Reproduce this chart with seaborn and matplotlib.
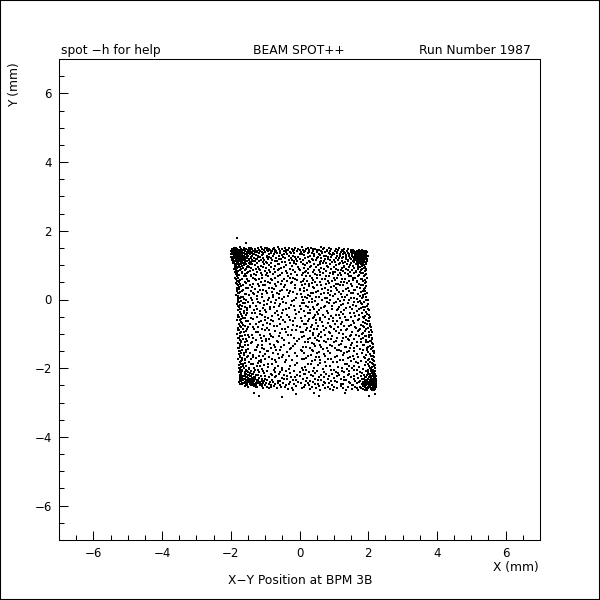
import numpy as np
import pandas as pd
import seaborn as sns
import matplotlib.pyplot as plt
from matplotlib.patches import Rectangle
from matplotlib.ticker import MultipleLocator

# hits, (y, [x, x, ...]) in mm, band by band
stray_hits = [
    (1.78, [-1.82]), (1.64, [-1.55]), (-2.72, [-1.32, 1.31, 0.42]),
    (-2.80, [-1.18, 0.57, 2.03]), (-2.85, [-0.52]), (-2.76, [-0.11, 2.21]),
]
top_band = [
    (1.52, [-1.73, -1.12, -0.63, 0.08, 0.62]),
    (1.49, [-1.91, -1.62, -1.48, -1.21, -0.94, -0.41, -0.12, 0.33, 0.71]),
    (1.46, [-1.97, -1.83, -1.71, -1.55, -1.37, -1.08, -0.77, -0.52, -0.22, 0.19, 0.46, 0.93, 1.41]),
    (1.43, [-1.94, -1.88, -1.76, -1.64, -1.43, -1.29, -1.02, -0.86, -0.33, 0.02, 0.27, 0.58, 1.12, 1.56, 1.73]),
    (1.40, [-1.99, -1.86, -1.79, -1.68, -1.58, -1.34, -1.16, -0.91, -0.68, -0.46, -0.07, 0.39, 0.81, 1.03, 1.38, 1.67, 1.84, 1.93]),
    (1.37, [-1.93, -1.85, -1.72, -1.66, -1.51, -1.41, -1.25, -0.99, -0.72, -0.28, 0.13, 0.52, 0.74, 1.21, 1.49, 1.62, 1.78, 1.89]),
    (1.34, [-1.96, -1.81, -1.75, -1.61, -1.53, -1.38, -1.19, -0.83, -0.57, -0.15, 0.24, 0.66, 0.98, 1.33, 1.58, 1.71, 1.81, 1.95]),
    (1.31, [-1.98, -1.89, -1.77, -1.69, -1.57, -1.45, -1.31, -1.05, -0.74, -0.37, 0.07, 0.43, 0.88, 1.17, 1.44, 1.65, 1.75, 1.86, 1.91]),
    (1.28, [-1.92, -1.84, -1.73, -1.63, -1.49, -1.22, -0.96, -0.61, -0.19, 0.31, 0.77, 1.08, 1.52, 1.69, 1.79, 1.88, 1.98]),
    (1.25, [-1.95, -1.87, -1.78, -1.67, -1.59, -1.42, -1.14, -0.88, -0.48, -0.03, 0.55, 0.92, 1.27, 1.61, 1.72, 1.83, 1.94]),
    (1.22, [-1.9, -1.82, -1.74, -1.65, -1.52, -1.33, -1.07, -0.69, -0.25, 0.17, 0.63, 1.14, 1.47, 1.68, 1.76, 1.85, 1.92]),
    (1.19, [-1.97, -1.86, -1.71, -1.62, -1.46, -1.27, -0.93, -0.54, -0.09, 0.36, 0.84, 1.36, 1.59, 1.73, 1.82, 1.96]),
    (1.16, [-1.93, -1.8, -1.72, -1.6, -1.39, -1.11, -0.79, -0.31, 0.11, 0.49, 1.01, 1.42, 1.64, 1.77, 1.87]),
    (1.13, [-1.88, -1.76, -1.66, -1.55, -1.35, -1.18, -0.65, -0.17, 0.28, 0.72, 1.25, 1.55, 1.7, 1.84, 1.97]),
    (1.10, [-1.94, -1.83, -1.7, -1.58, -1.44, -0.98, -0.43, 0.04, 0.59, 0.95, 1.31, 1.66, 1.78, 1.9]),
    (1.07, [-1.91, -1.79, -1.64, -1.47, -1.24, -0.84, -0.27, 0.22, 0.68, 1.19, 1.5, 1.74, 1.86]),
    (1.04, [-1.86, -1.73, -1.56, -1.37, -1.03, -0.59, -0.11, 0.41, 0.89, 1.39, 1.63, 1.81, 1.93]),
    (1.01, [-1.89, -1.77, -1.61, -1.3, -0.89, -0.38, 0.15, 0.53, 1.06, 1.46, 1.71, 1.89]),
    (0.98, [-1.84, -1.68, -1.5, -1.13, -0.71, -0.21, 0.34, 0.8, 1.29, 1.57, 1.83]),
]
top_band_more = [
    (1.50, [-1.85, -1.42, -1.0, -0.74, -0.3, 0.25, 0.85, 1.15]),
    (1.47, [-1.9, -1.6, -1.3, -0.88, -0.6, -0.05, 0.4, 0.68, 1.05, 1.3]),
    (1.44, [-1.8, -1.5, -1.18, -0.95, -0.7, -0.4, -0.16, 0.11, 0.5, 0.8, 1.24, 1.5, 1.82]),
    (1.41, [-1.92, -1.74, -1.47, -1.23, -0.8, -0.56, -0.2, 0.16, 0.62, 0.9, 1.26, 1.6, 1.76, 1.9]),
    (1.38, [-1.96, -1.7, -1.54, -1.3, -1.1, -0.82, -0.38, 0.04, 0.29, 0.65, 1.1, 1.3, 1.55, 1.74, 1.86, 1.97]),
    (1.35, [-1.9, -1.78, -1.64, -1.47, -1.06, -0.66, -0.24, 0.36, 0.87, 1.1, 1.4, 1.66, 1.75, 1.92]),
    (1.32, [-1.94, -1.84, -1.71, -1.6, -1.35, -0.9, -0.44, 0.0, 0.56, 1.0, 1.26, 1.54, 1.69, 1.78, 1.88]),
    (1.29, [-1.87, -1.8, -1.66, -1.54, -1.27, -1.1, -0.52, 0.14, 0.61, 0.96, 1.35, 1.62, 1.73, 1.84, 1.94]),
    (1.26, [-1.91, -1.75, -1.62, -1.37, -0.78, -0.3, 0.42, 0.7, 1.18, 1.43, 1.65, 1.76, 1.9]),
    (1.23, [-1.98, -1.86, -1.7, -1.56, -1.2, -0.94, -0.12, 0.24, 0.82, 1.34, 1.56, 1.8, 1.88]),
    (1.20, [-1.92, -1.8, -1.68, -1.42, -0.82, -0.42, 0.5, 1.06, 1.24, 1.62, 1.71, 1.9]),
    (1.17, [-1.84, -1.75, -1.58, -1.24, -0.6, 0.02, 0.74, 1.5, 1.68, 1.8, 1.93]),
    (1.14, [-1.96, -1.82, -1.63, -1.48, -1.03, -0.22, 0.4, 0.88, 1.12, 1.6, 1.75, 1.88]),
    (1.11, [-1.87, -1.74, -1.52, -1.3, -0.72, -0.06, 0.64, 1.4, 1.72, 1.83]),
    (1.08, [-1.82, -1.68, -1.4, -1.07, -0.5, 0.3, 1.03, 1.58, 1.8, 1.95]),
    (1.05, [-1.93, -1.79, -1.6, -0.95, -0.16, 0.76, 1.27, 1.68, 1.85]),
    (1.02, [-1.83, -1.71, -1.45, -0.64, 0.1, 0.6, 1.15, 1.78]),
]
upper_middle = [
    (0.95, [-1.87, -1.74, -1.53, -1.2, -0.82, -0.05, 0.47, 1.0, 1.44, 1.76, 1.92]),
    (0.92, [-1.82, -1.63, -1.4, -0.97, -0.55, 0.12, 0.64, 1.23, 1.6, 1.87]),
    (0.89, [-1.9, -1.7, -1.28, -0.75, -0.29, 0.26, 0.91, 1.35, 1.69, 1.94]),
    (0.86, [-1.85, -1.59, -1.15, -0.62, 0.01, 0.56, 1.11, 1.53, 1.8]),
    (0.83, [-1.78, -1.45, -1.01, -0.4, 0.19, 0.76, 1.28, 1.65, 1.9]),
    (0.80, [-1.88, -1.66, -1.23, -0.86, -0.14, 0.38, 1.04, 1.48, 1.75]),
    (0.77, [-1.81, -1.52, -0.94, -0.5, 0.09, 0.69, 1.18, 1.58, 1.85]),
    (0.73, [-1.86, -1.6, -1.32, -0.77, -0.24, 0.44, 0.97, 1.41, 1.93]),
    (0.70, [-1.75, -1.42, -1.09, -0.58, 0.06, 0.6, 1.22, 1.72]),
    (0.67, [-1.83, -1.57, -0.91, -0.33, 0.3, 0.85, 1.5, 1.88]),
    (0.64, [-1.79, -1.36, -0.7, -0.18, 0.5, 1.09, 1.62, 1.96]),
    (0.60, [-1.84, -1.54, -1.17, -0.46, 0.14, 0.73, 1.32, 1.79]),
    (0.57, [-1.72, -1.26, -0.8, -0.06, 0.4, 1.02, 1.55, 1.9]),
    (0.54, [-1.81, -1.48, -0.99, -0.35, 0.23, 0.94, 1.45, 1.84]),
    (0.51, [-1.76, -1.12, -0.64, 0.03, 0.61, 1.2, 1.67]),
    (0.47, [-1.85, -1.56, -0.85, -0.26, 0.35, 0.87, 1.38, 1.92]),
    (0.44, [-1.74, -1.34, -0.53, 0.17, 0.78, 1.13, 1.73]),
    (0.41, [-1.8, -1.44, -1.0, -0.42, 0.08, 0.52, 1.26, 1.86]),
    (0.38, [-1.69, -1.19, -0.67, 0.27, 0.99, 1.52, 1.95]),
    (0.34, [-1.83, -1.5, -0.9, -0.12, 0.42, 1.07, 1.77]),
    (0.31, [-1.77, -1.29, -0.73, 0.0, 0.66, 1.34, 1.88]),
    (0.28, [-1.65, -1.06, -0.37, 0.21, 0.82, 1.6]),
    (0.25, [-1.82, -1.41, -0.56, 0.13, 0.93, 1.43, 1.91]),
    (0.21, [-1.73, -1.21, -0.8, -0.2, 0.48, 1.16, 1.8]),
    (0.18, [-1.79, -0.96, -0.3, 0.33, 0.71, 1.56, 1.97]),
    (0.15, [-1.6, -1.33, -0.61, 0.05, 1.03, 1.7]),
    (0.12, [-1.84, -1.47, -0.78, 0.25, 0.88, 1.37, 1.85]),
    (0.08, [-1.71, -1.1, -0.44, 0.16, 0.57, 1.24, 1.94]),
    (0.05, [-1.78, -0.88, -0.09, 0.75, 1.49, 1.82]),
    (0.02, [-1.62, -1.24, -0.52, 0.37, 1.11, 1.66]),
    (-0.01, [-1.8, -1.38, -0.69, 0.1, 0.9, 1.3, 1.98]),
    (-0.05, [-1.7, -1.03, -0.23, 0.45, 1.19, 1.75]),
    (-0.08, [-1.75, -1.49, -0.83, 0.29, 0.81, 1.59, 1.89]),
    (-0.11, [-1.58, -1.14, -0.39, 0.06, 1.0, 1.42]),
    (-0.14, [-1.82, -0.95, -0.57, 0.55, 1.27, 1.83, 2.0]),
    (-0.18, [-1.66, -1.27, -0.16, 0.2, 0.74, 1.64]),
    (-0.21, [-1.77, -1.43, -0.75, 0.39, 1.14, 1.92]),
    (-0.24, [-1.54, -1.05, -0.31, 0.63, 1.36, 1.78]),
    (-0.27, [-1.72, -0.87, 0.04, 0.96, 1.52, 1.99]),
    (-0.31, [-1.79, -1.31, -0.47, 0.31, 1.08, 1.87]),
    (-0.34, [-1.61, -1.16, -0.65, 0.12, 0.79, 1.68]),
]
upper_middle_more = [
    (0.94, [-1.79, -1.48, -1.06, -0.44, 0.32, 0.83, 1.3, 1.7]),
    (0.90, [-1.86, -1.55, -1.17, -0.6, -0.02, 0.7, 1.07, 1.82]),
    (0.85, [-1.72, -1.35, -0.88, -0.2, 0.43, 1.2, 1.4, 1.95]),
    (0.81, [-1.83, -1.5, -0.72, 0.15, 0.6, 0.98, 1.63]),
    (0.76, [-1.68, -1.12, -0.36, 0.25, 0.9, 1.33, 1.78]),
    (0.72, [-1.8, -1.27, -0.98, -0.08, 0.52, 1.13, 1.9]),
    (0.68, [-1.62, -1.4, -0.62, 0.2, 0.78, 1.44, 1.7]),
    (0.63, [-1.87, -1.08, -0.28, 0.35, 1.0, 1.56]),
    (0.59, [-1.68, -1.3, -0.84, -0.13, 0.66, 1.25, 1.83]),
    (0.55, [-1.78, -1.5, -0.52, 0.1, 0.83, 1.66]),
    (0.50, [-1.6, -0.93, -0.22, 0.46, 1.3, 1.94]),
    (0.46, [-1.82, -1.22, -0.7, 0.27, 1.05, 1.5]),
    (0.42, [-1.64, -1.05, -0.14, 0.62, 1.18, 1.8]),
    (0.37, [-1.75, -1.37, -0.45, 0.38, 0.92, 1.68]),
    (0.33, [-1.57, -0.8, 0.12, 0.74, 1.42, 1.9]),
    (0.29, [-1.81, -1.15, -0.5, 0.0, 1.1, 1.62]),
    (0.24, [-1.68, -0.98, -0.27, 0.55, 1.28, 1.84]),
    (0.20, [-1.76, -1.36, -0.66, 0.4, 0.84, 1.5]),
    (0.16, [-1.56, -1.08, -0.08, 0.62, 1.2, 1.92]),
    (0.11, [-1.8, -1.25, -0.34, 0.3, 0.98, 1.75]),
    (0.07, [-1.64, -0.76, 0.07, 0.48, 1.32, 1.86]),
    (0.03, [-1.73, -1.42, -0.6, 0.22, 0.8, 1.58]),
    (-0.02, [-1.56, -0.92, -0.17, 0.66, 1.43, 1.93]),
    (-0.06, [-1.78, -1.2, -0.48, 0.36, 1.06, 1.69]),
    (-0.10, [-1.65, -1.34, -0.7, 0.14, 0.86, 1.8]),
    (-0.15, [-1.72, -1.02, -0.26, 0.5, 1.22, 1.55]),
    (-0.19, [-1.8, -1.45, -0.6, 0.02, 0.95, 1.96]),
    (-0.23, [-1.6, -0.86, 0.25, 0.72, 1.46, 1.85]),
    (-0.28, [-1.7, -1.24, -0.4, 0.42, 1.12, 1.72]),
    (-0.32, [-1.54, -0.99, -0.12, 0.58, 1.3, 2.02]),
]
lower_middle = [
    (-0.37, [-1.74, -0.98, -0.02, 0.5, 1.22, 1.95]),
    (-0.40, [-1.52, -1.39, -0.72, 0.24, 1.46, 1.81]),
    (-0.44, [-1.8, -1.08, -0.36, 0.68, 1.05, 2.01]),
    (-0.47, [-1.67, -0.81, 0.15, 0.92, 1.61, 1.9]),
    (-0.50, [-1.76, -1.25, -0.55, 0.41, 1.33, 1.84]),
    (-0.53, [-1.59, -0.92, -0.13, 0.59, 1.17, 2.03]),
    (-0.57, [-1.71, -1.35, -0.6, 0.28, 0.85, 1.74]),
    (-0.60, [-1.81, -1.01, -0.27, 0.47, 1.4, 1.93]),
    (-0.63, [-1.56, -0.76, 0.08, 0.97, 1.55, 2.02]),
    (-0.66, [-1.69, -1.18, -0.43, 0.65, 1.25, 1.86]),
    (-0.70, [-1.77, -1.44, -0.86, 0.18, 1.04, 1.97]),
    (-0.73, [-1.63, -1.07, -0.2, 0.36, 1.51, 1.79]),
    (-0.76, [-1.73, -0.66, 0.54, 0.9, 1.3, 2.05]),
    (-0.79, [-1.5, -1.22, -0.34, 0.02, 1.13, 1.88]),
    (-0.83, [-1.79, -0.94, 0.22, 0.77, 1.63, 1.99]),
    (-0.86, [-1.64, -1.33, -0.51, 0.43, 1.39, 1.76]),
    (-0.89, [-1.75, -1.0, -0.1, 0.7, 1.2, 2.07]),
    (-0.92, [-1.55, -0.7, 0.32, 1.06, 1.69, 1.91]),
    (-0.96, [-1.7, -1.2, -0.4, 0.11, 0.86, 2.03]),
    (-0.99, [-1.81, -0.85, 0.58, 1.28, 1.83]),
    (-1.02, [-1.6, -1.37, -0.25, 0.38, 1.5, 2.09]),
    (-1.05, [-1.72, -1.04, -0.59, 0.95, 1.72, 1.95]),
    (-1.09, [-1.47, -0.78, 0.07, 0.62, 1.35, 2.01]),
    (-1.12, [-1.78, -1.13, -0.15, 0.44, 1.1, 1.86]),
    (-1.15, [-1.65, -0.89, 0.26, 0.83, 1.58, 2.11]),
    (-1.18, [-1.74, -1.28, -0.45, 0.51, 1.44, 1.93]),
    (-1.22, [-1.53, -0.97, -0.06, 0.72, 1.24, 2.06]),
    (-1.25, [-1.69, -0.63, 0.17, 1.01, 1.78, 1.98]),
    (-1.28, [-1.79, -1.4, -0.32, 0.35, 1.53, 2.12]),
    (-1.31, [-1.58, -1.09, -0.74, 0.6, 1.15, 1.89]),
    (-1.35, [-1.72, -0.19, 0.46, 0.94, 1.67, 2.04]),
    (-1.38, [-1.63, -1.23, -0.54, 0.1, 1.32, 2.14]),
    (-1.41, [-1.76, -0.83, 0.3, 0.8, 1.47, 1.96]),
    (-1.44, [-1.49, -1.02, -0.28, 0.67, 1.75, 2.09]),
    (-1.48, [-1.68, -1.3, -0.68, 0.03, 1.09, 1.84]),
    (-1.51, [-1.77, -0.91, 0.4, 1.2, 1.6, 2.13]),
    (-1.54, [-1.56, -1.15, -0.37, 0.56, 1.38, 2.0]),
    (-1.57, [-1.7, -0.77, 0.14, 0.88, 1.82, 2.16]),
    (-1.61, [-1.62, -1.34, -0.48, 0.33, 1.26, 1.94]),
    (-1.64, [-1.74, -1.06, -0.08, 0.73, 1.56, 2.08]),
    (-1.67, [-1.52, -0.88, 0.49, 1.03, 1.71, 2.17]),
    (-1.70, [-1.67, -1.26, -0.6, 0.2, 1.41, 1.9]),
    (-1.74, [-1.78, -1.42, -0.99, 0.07, 0.84, 2.11]),
    (-1.77, [-1.59, -0.71, -0.22, 0.61, 1.18, 1.99]),
    (-1.80, [-1.71, -1.19, 0.37, 1.49, 1.8, 2.18]),
    (-1.83, [-1.48, -1.11, -0.41, 0.98, 1.65, 2.05]),
    (-1.87, [-1.65, -1.36, -0.8, 0.25, 1.31, 2.14]),
    (-1.90, [-1.75, -1.03, -0.12, 0.53, 1.9, 2.2]),
    (-1.93, [-1.55, -1.24, -0.62, 0.76, 1.43, 2.02]),
    (-1.96, [-1.69, -0.93, 0.16, 1.12, 1.73, 2.12]),
    (-2.00, [-1.61, -1.32, -0.5, 0.42, 1.54, 2.19]),
]
lower_middle_more = [
    (-0.38, [-1.62, -1.3, -0.5, 0.3, 0.84, 1.6]),
    (-0.42, [-1.7, -1.16, -0.1, 0.55, 1.28, 1.96]),
    (-0.46, [-1.55, -0.62, 0.45, 1.14, 1.72]),
    (-0.51, [-1.78, -1.0, -0.3, 0.74, 1.5, 2.06]),
    (-0.55, [-1.64, -1.4, 0.05, 0.38, 0.98, 1.88]),
    (-0.59, [-1.74, -0.82, -0.48, 0.6, 1.36, 1.7]),
    (-0.64, [-1.5, -1.12, -0.18, 0.26, 1.1, 2.0]),
    (-0.68, [-1.68, -0.96, 0.48, 0.82, 1.58, 1.92]),
    (-0.72, [-1.76, -1.28, -0.58, 0.12, 1.2, 2.04]),
    (-0.77, [-1.58, -0.74, -0.06, 0.68, 1.44, 1.84]),
    (-0.81, [-1.7, -1.36, 0.34, 0.93, 1.62, 2.08]),
    (-0.85, [-1.52, -1.1, -0.42, 0.52, 1.0, 1.95]),
    (-0.90, [-1.8, -0.88, -0.22, 0.2, 1.34, 1.74]),
    (-0.94, [-1.62, -1.26, 0.04, 0.63, 1.52, 2.1]),
    (-0.98, [-1.72, -0.58, 0.4, 0.9, 1.16, 1.86]),
    (-1.03, [-1.5, -1.14, -0.34, 0.75, 1.64, 2.03]),
    (-1.07, [-1.68, -0.82, 0.14, 0.54, 1.46, 1.92]),
    (-1.11, [-1.76, -1.34, -0.5, 0.3, 1.26, 2.12]),
    (-1.16, [-1.56, -0.98, -0.02, 0.92, 1.4, 1.8]),
    (-1.20, [-1.7, -1.08, -0.66, 0.58, 1.06, 2.08]),
    (-1.24, [-1.6, -1.38, 0.24, 0.78, 1.66, 1.94]),
    (-1.29, [-1.74, -0.86, -0.12, 0.42, 1.22, 2.15]),
    (-1.33, [-1.5, -1.2, -0.44, 0.9, 1.5, 1.86]),
    (-1.37, [-1.66, -0.7, 0.18, 0.64, 1.36, 2.0]),
    (-1.42, [-1.78, -1.1, -0.26, 1.02, 1.6, 2.1]),
    (-1.46, [-1.56, -1.28, -0.56, 0.36, 1.16, 1.96]),
    (-1.50, [-1.72, -0.94, 0.08, 0.82, 1.44, 2.16]),
    (-1.55, [-1.62, -1.44, -0.14, 0.5, 1.3, 1.82]),
    (-1.59, [-1.76, -1.0, -0.64, 0.7, 1.66, 2.04]),
    (-1.63, [-1.5, -1.18, -0.3, 0.24, 1.08, 2.14]),
    (-1.68, [-1.72, -1.36, -0.5, 0.56, 1.48, 1.88]),
    (-1.72, [-1.58, -0.8, 0.12, 0.92, 1.6, 2.02]),
    (-1.76, [-1.68, -1.12, -0.38, 0.44, 1.28, 2.15]),
    (-1.81, [-1.74, -1.48, -0.68, 0.74, 1.1, 1.94]),
    (-1.85, [-1.58, -1.22, -0.08, 0.6, 1.7, 2.1]),
    (-1.89, [-1.7, -1.4, -0.92, 0.34, 1.38, 1.98]),
    (-1.94, [-1.64, -1.16, -0.28, 0.9, 1.58, 2.16]),
    (-1.98, [-1.76, -1.46, -0.72, 0.08, 1.24, 2.06]),
]
bottom_band = [
    (-2.03, [-1.73, -1.46, -1.08, -0.3, 0.69, 1.37, 1.85, 2.07]),
    (-2.06, [-1.57, -1.21, -0.75, 0.09, 0.91, 1.66, 2.15]),
    (-2.09, [-1.66, -1.41, -0.96, -0.17, 0.52, 1.23, 1.95, 2.21]),
    (-2.12, [-1.76, -1.51, -1.17, -0.56, 0.29, 1.05, 1.77, 2.1]),
    (-2.16, [-1.6, -1.38, -0.82, 0.13, 0.78, 1.45, 2.0, 2.18]),
    (-2.19, [-1.7, -1.48, -1.27, -0.44, 0.34, 1.16, 1.88, 2.13]),
    (-2.22, [-1.63, -1.43, -1.12, -0.67, 0.01, 0.87, 1.59, 2.04, 2.22]),
    (-2.25, [-1.74, -1.54, -1.33, -0.9, -0.24, 0.57, 1.29, 1.92, 2.16]),
    (-2.28, [-1.67, -1.5, -1.39, -1.18, -0.52, 0.21, 0.99, 1.7, 2.08, 2.2]),
    (-2.32, [-1.72, -1.58, -1.44, -1.29, -1.01, -0.35, 0.46, 1.21, 1.83, 1.98, 2.14]),
    (-2.35, [-1.64, -1.52, -1.36, -1.2, -0.79, -0.1, 0.64, 1.36, 1.9, 2.06, 2.23]),
    (-2.38, [-1.69, -1.55, -1.42, -1.25, -1.04, -0.58, 0.19, 0.93, 1.62, 1.96, 2.11, 2.19]),
    (-2.41, [-1.75, -1.47, -1.34, -1.15, -0.87, -0.28, 0.39, 1.1, 1.74, 1.87, 2.02, 2.17]),
    (-2.44, [-1.61, -1.53, -1.4, -1.22, -0.98, -0.64, 0.05, 0.75, 1.48, 1.93, 2.09, 2.24]),
    (-2.47, [-1.68, -1.45, -1.31, -1.1, -0.72, -0.16, 0.55, 1.27, 1.81, 1.99, 2.13, 2.2]),
    (-2.50, [-1.56, -1.37, -1.14, -0.84, -0.4, 0.28, 0.96, 1.57, 1.91, 2.05, 2.18]),
    (-2.54, [-1.49, -1.23, -0.95, -0.53, 0.12, 0.82, 1.4, 1.76, 2.0, 2.15, 2.23]),
    (-2.57, [-1.05, -0.66, -0.21, 0.47, 1.08, 1.68, 1.94, 2.1]),
    (-2.60, [-0.33, 0.31, 0.89, 1.52, 1.86, 2.07, 2.19]),
    (-2.64, [0.6, 1.34, 1.97, 2.12]),
]
bottom_band_more = [
    (-2.04, [-1.66, -1.3, -0.52, 0.2, 1.0, 1.58, 1.98]),
    (-2.08, [-1.72, -1.52, -1.05, -0.38, 0.4, 1.44, 2.08]),
    (-2.11, [-1.6, -1.32, -0.7, 0.02, 0.7, 1.3, 2.0, 2.16]),
    (-2.14, [-1.7, -1.44, -1.02, -0.28, 0.46, 1.12, 1.82, 2.12]),
    (-2.18, [-1.56, -1.34, -0.6, 0.16, 0.96, 1.66, 2.06, 2.2]),
    (-2.21, [-1.72, -1.5, -1.22, -0.8, -0.06, 0.62, 1.4, 1.96, 2.14]),
    (-2.24, [-1.6, -1.42, -1.0, -0.36, 0.38, 1.08, 1.78, 2.1, 2.19]),
    (-2.27, [-1.7, -1.56, -1.3, -0.72, -0.12, 0.72, 1.5, 1.94, 2.03, 2.17]),
    (-2.30, [-1.64, -1.48, -1.36, -1.1, -0.44, 0.1, 0.84, 1.6, 1.88, 2.12, 2.22]),
    (-2.33, [-1.68, -1.54, -1.4, -1.24, -0.94, -0.2, 0.54, 1.3, 1.97, 2.08, 2.18]),
    (-2.36, [-1.74, -1.46, -1.32, -1.08, -0.62, 0.3, 1.04, 1.76, 1.92, 2.04, 2.15]),
    (-2.39, [-1.6, -1.5, -1.37, -1.18, -0.76, -0.04, 0.72, 1.44, 1.85, 2.0, 2.14, 2.22]),
    (-2.42, [-1.66, -1.44, -1.28, -1.06, -0.48, 0.24, 0.86, 1.66, 1.96, 2.07, 2.2]),
    (-2.45, [-1.72, -1.57, -1.38, -1.16, -0.9, -0.3, 0.44, 1.2, 1.88, 2.03, 2.16]),
    (-2.48, [-1.52, -1.41, -1.26, -1.0, -0.56, 0.16, 0.68, 1.52, 1.95, 2.1, 2.23]),
    (-2.52, [-1.6, -1.33, -1.08, -0.74, -0.1, 0.58, 1.2, 1.84, 2.02, 2.17]),
    (-2.56, [-1.28, -0.82, -0.42, 0.36, 1.0, 1.62, 1.9, 2.06, 2.2]),
    (-2.59, [-0.9, 0.08, 0.74, 1.28, 1.8, 2.0, 2.14]),
    (-2.62, [-0.2, 0.98, 1.7, 1.92, 2.16]),
]

x_tick_labels = ['\u22126', '\u22124', '\u22122', '0', '2', '4', '6']
y_tick_labels = ['\u22126', '\u22124', '\u22122', '0', '2', '4', '6']

rows = []
for band in [stray_hits, top_band, top_band_more, upper_middle, upper_middle_more,
             lower_middle, lower_middle_more, bottom_band, bottom_band_more]:
    for y, xs in band:
        for x in xs:
            rows.append((x, y))
df = pd.DataFrame(rows, columns=['x', 'y'])

sns.set_theme(style='white')
plt.rcParams['font.family'] = ['DejaVu Sans']

fig = plt.figure(figsize=(6, 6), dpi=100)
ax = fig.add_axes([59 / 600, 60 / 600, 481 / 600, 481 / 600])

sns.scatterplot(data=df, x='x', y='y', marker='s', s=0.6, color='black',
                linewidth=0, legend=False, ax=ax)
ax.collections[0].set_antialiased(False)

ax.set_xlim(-7, 7)
ax.set_ylim(-7, 7)
ax.set_xlabel('')
ax.set_ylabel('')

ax.xaxis.set_minor_locator(MultipleLocator(0.5))
ax.yaxis.set_minor_locator(MultipleLocator(0.5))
ax.set_xticks([-6, -4, -2, 0, 2, 4, 6], x_tick_labels)
ax.set_yticks([-6, -4, -2, 0, 2, 4, 6], y_tick_labels)
ax.tick_params(which='major', direction='in', length=6.5, width=0.75, color='black',
               labelsize=8.5, labelcolor='black', pad=5, left=True, bottom=True)
ax.tick_params(which='minor', direction='in', length=3.6, width=0.75, color='black',
               left=True, bottom=True)
for spine in ax.spines.values():
    spine.set_linewidth(0.75)
    spine.set_color('black')

# titles and axis names sit at fixed places around the frame
fig.text(61 / 600, 1 - 54 / 600, 'spot \u2212h for help', fontsize=8.8, color='black', ha='left', va='baseline')
fig.text(299 / 600, 1 - 54 / 600, 'BEAM SPOT++', fontsize=8.8, color='black', ha='center', va='baseline')
fig.text(531 / 600, 1 - 54 / 600, 'Run Number 1987', fontsize=8.8, color='black', ha='right', va='baseline')
fig.text(539 / 600, 1 - 568 / 600, 'X (mm)', fontsize=8.8, color='black', ha='right', va='center')
fig.text(300 / 600, 1 - 580 / 600, 'X\u2212Y Position at BPM 3B', fontsize=8.8, color='black', ha='center', va='center')
fig.text(15 / 600, 1 - 62 / 600, 'Y (mm)', fontsize=8.8, color='black', rotation=90, ha='center', va='top')

fig.add_artist(Rectangle((0, 0), 1, 1, transform=fig.transFigure, fill=False,
                         edgecolor='black', linewidth=1.5))

fig.savefig('out.png', dpi=100)
